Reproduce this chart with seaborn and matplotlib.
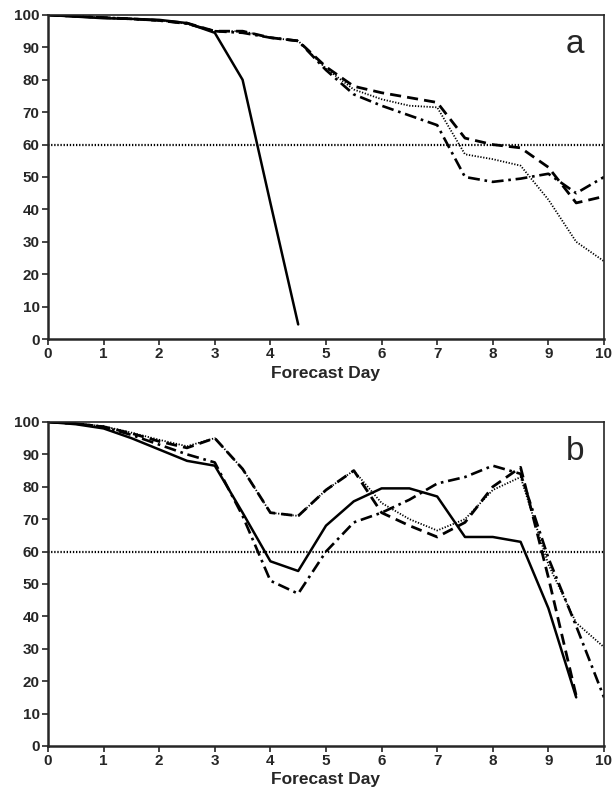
import numpy as np
import pandas as pd
import matplotlib
matplotlib.use("Agg")
import matplotlib.pyplot as plt
import seaborn as sns

# forecast days (half-day steps)
days = [0, 0.5, 1, 1.5, 2, 2.5, 3, 3.5, 4, 4.5, 5, 5.5, 6, 6.5, 7, 7.5, 8, 8.5, 9, 9.5, 10]

# panel a
a_solid = [100, 99.5, 99, 98.8, 98.5, 97.5, 94.5, 80, 42, 4.5]
a_dashed = [100, 99.6, 99.2, 98.8, 98.3, 97.5, 95, 95, 93, 92, 84, 78, 76, 74.5, 73, 62, 60, 59, 53, 42, 44]
a_dotted = [100, 99.6, 99.2, 98.8, 98.3, 97.3, 95, 95, 93, 92, 83.5, 77, 74, 72, 71.5, 57, 55.5, 53.5, 43, 30, 24]
a_dashdot = [100, 99.6, 99.2, 98.8, 98.3, 97.3, 95, 94.5, 93, 92, 83, 75.5, 72, 69, 66, 50, 48.5, 49.5, 51, 45, 50]

# panel b
b_solid = [100, 99.3, 98, 95, 91.5, 88, 86.5, 72, 57, 54, 68, 75.5, 79.5, 79.5, 77, 64.5, 64.5, 63, 42.5, 15]
b_dashed = [100, 99.5, 98.5, 96.5, 94, 92, 95, 85.5, 72, 71, 79, 85, 72, 68, 64.5, 69, 80, 86, 52, 15.5]
b_dotted = [100, 99.5, 98.7, 96.7, 94.5, 92.5, 95, 85.5, 72, 71, 79, 85, 75, 70, 66.5, 70, 79, 83, 56, 38, 30.5]
b_dashdot = [100, 99.5, 98.5, 96, 93, 90, 87.5, 71, 51, 47, 60, 69, 72, 76, 81, 83, 86.5, 84, 58, 37, 15]

threshold = 60
panel_labels = ["a", "b"]

sns.set_style("ticks")
plt.rcParams["font.family"] = ["Liberation Sans", "DejaVu Sans"]

fig = plt.figure(figsize=(6.13, 7.93), dpi=100)
ax_a = fig.add_axes([0.0783, 0.5725, 0.907, 0.4086])
ax_b = fig.add_axes([0.0783, 0.0593, 0.907, 0.4086])

styles = {
    "solid": dict(linestyle="-", linewidth=1.8),
    "dashed": dict(linestyle=(0, (4, 2.2)), linewidth=2.0),
    "dotted": dict(linestyle=(0, (0.7, 0.9)), linewidth=1.3),
    "dashdot": dict(linestyle=(0, (4.5, 1.8, 1.0, 1.8)), linewidth=1.9),
}

panels = [
    (ax_a, {"solid": a_solid, "dashed": a_dashed, "dotted": a_dotted, "dashdot": a_dashdot}),
    (ax_b, {"solid": b_solid, "dashed": b_dashed, "dotted": b_dotted, "dashdot": b_dashdot}),
]

for (ax, series), label in zip(panels, panel_labels):
    for name, vals in series.items():
        sns.lineplot(x=days[:len(vals)], y=vals, ax=ax, color="black", **styles[name])
    ax.axhline(threshold, color="black", linestyle=(0, (0.6, 0.8)), linewidth=1.6)
    ax.set_xlim(0, 10)
    ax.set_ylim(0, 100)
    ax.set_xticks(range(0, 11))
    ax.set_yticks(range(0, 101, 10))
    ax.tick_params(direction="out", length=4, width=1.2, labelsize=11, pad=2)
    for t in ax.get_xticklabels() + ax.get_yticklabels():
        t.set_fontweight("bold")
    ax.set_xlabel("Forecast Day", fontsize=12.5, fontweight="bold", labelpad=3)
    ax.set_ylabel("")
    for side in ["left", "bottom"]:
        ax.spines[side].set_linewidth(1.8)
    for side in ["top", "right"]:
        ax.spines[side].set_linewidth(1.2)
    ax.text(0.948, 0.91, label, transform=ax.transAxes, fontsize=24,
            ha="center", va="center")

fig.savefig("out.png", dpi=100)
